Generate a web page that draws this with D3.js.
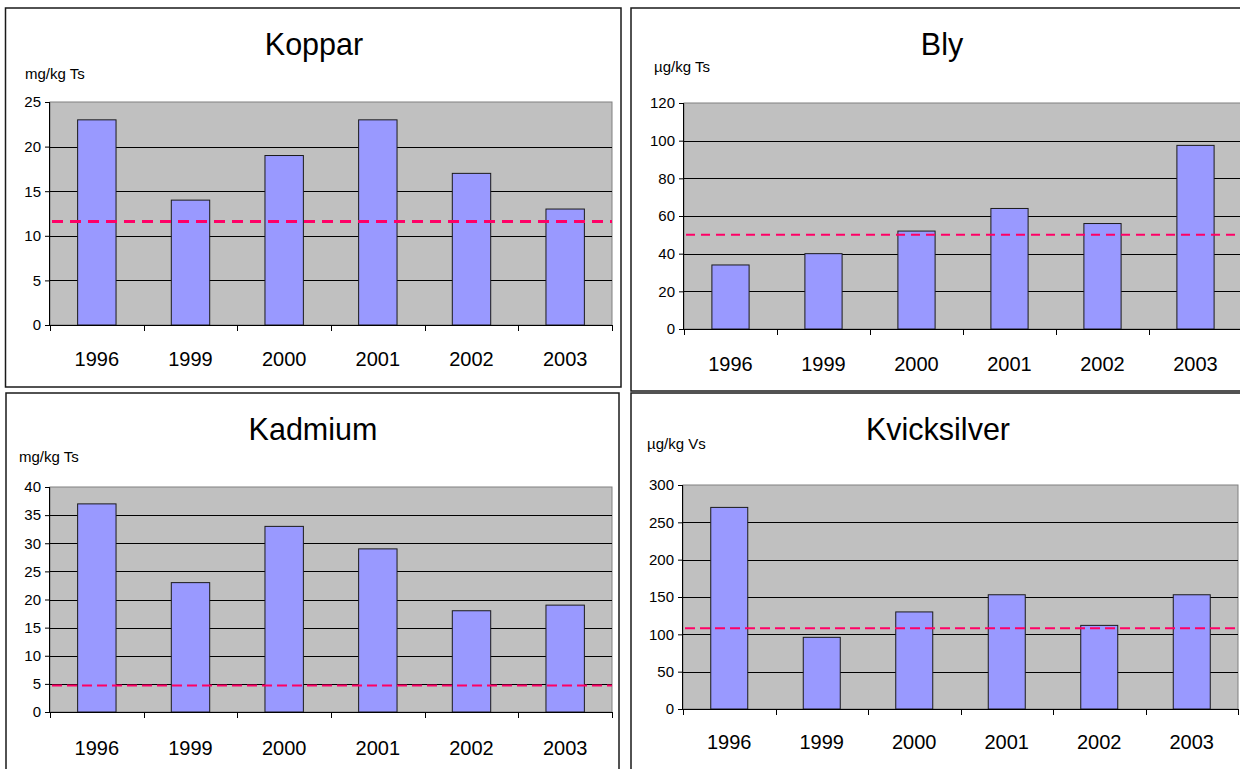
<!DOCTYPE html>
<html>
<head>
<meta charset="utf-8">
<script src="https://cdn.jsdelivr.net/npm/d3@7"></script>
<style>
  html, body { margin: 0; padding: 0; background: #ffffff; }
  svg { display: block; font-family: "Liberation Sans", Arial, sans-serif; }
</style>
</head>
<body>
<svg id="chart" width="1240" height="769"></svg>
<script>
// Sampling years shared by all four panels
const years = ["1996", "1999", "2000", "2001", "2002", "2003"];

// Koppar (mg/kg Ts)
const kopparValues = [23, 14, 19, 23, 17, 13];
const kopparReference = 11.6;
const kopparTicks = [0, 5, 10, 15, 20, 25];

// Bly (µg/kg Ts)
const blyValues = [34, 40, 52, 64, 56, 97.5];
const blyReference = 50;
const blyTicks = [0, 20, 40, 60, 80, 100, 120];

// Kadmium (mg/kg Ts)
const kadmiumValues = [37, 23, 33, 29, 18, 19];
const kadmiumReference = 4.7;
const kadmiumTicks = [0, 5, 10, 15, 20, 25, 30, 35, 40];

// Kvicksilver (µg/kg Vs)
const kvicksilverValues = [270, 96, 130, 153, 112, 153];
const kvicksilverReference = 108;
const kvicksilverTicks = [0, 50, 100, 150, 200, 250, 300];

const svg = d3.select("#chart");

function drawPanel(p) {
  const g = svg.append("g");

  // outer chart frame
  g.append("rect")
    .attr("x", p.box[0]).attr("y", p.box[1])
    .attr("width", p.box[2]).attr("height", p.box[3])
    .attr("fill", "#ffffff").attr("stroke", "#1a1a1a").attr("stroke-width", 1.5);

  const [px, py, pw, ph] = p.plot;
  const x = d3.scaleBand().domain(years).range([px, px + pw]).paddingInner(0).paddingOuter(0);
  const y = d3.scaleLinear().domain([0, d3.max(p.ticks)]).range([py + ph, py]);

  // plot area
  g.append("rect")
    .attr("x", px).attr("y", py).attr("width", pw).attr("height", ph)
    .attr("fill", "#c0c0c0").attr("stroke", "#808080").attr("stroke-width", 1);

  // horizontal gridlines
  g.append("g").selectAll("line")
    .data(p.ticks.filter(t => t > 0 && t < d3.max(p.ticks)))
    .join("line")
    .attr("x1", px).attr("x2", px + pw)
    .attr("y1", d => Math.round(y(d)) + 0.5).attr("y2", d => Math.round(y(d)) + 0.5)
    .attr("stroke", "#000000").attr("stroke-width", 1);

  // bars
  const bw = x.bandwidth() * p.barRatio;
  g.append("g").selectAll("rect")
    .data(years.map((yr, i) => ({ yr, v: p.values[i] })))
    .join("rect")
    .attr("x", d => x(d.yr) + (x.bandwidth() - bw) / 2)
    .attr("y", d => y(d.v))
    .attr("width", bw)
    .attr("height", d => y(0) - y(d.v))
    .attr("fill", "#9999ff").attr("stroke", "#1a1a1a").attr("stroke-width", 1);

  // reference level
  g.append("line")
    .attr("x1", px + 2).attr("x2", px + pw)
    .attr("y1", y(p.reference)).attr("y2", y(p.reference))
    .attr("stroke", "#ff0066").attr("stroke-width", p.dashWidth)
    .attr("stroke-dasharray", p.dash);

  // y axis
  const yAxis = d3.axisLeft(y).tickValues(p.ticks).tickSize(5).tickPadding(4).tickFormat(d3.format("d"));
  const ya = g.append("g").attr("transform", `translate(${px},0)`).call(yAxis);
  ya.select(".domain").attr("stroke", "#000").attr("d", `M-0.5,${py}V${py + ph}`);
  ya.selectAll(".tick line").attr("stroke", "#000");
  ya.selectAll(".tick text").attr("font-size", p.yFont).attr("fill", "#000")
    .attr("font-family", "Liberation Sans, Arial, sans-serif");

  // x axis: ticks at category boundaries, labels centered in each band
  const xa = g.append("g").attr("transform", `translate(0,${py + ph})`);
  xa.append("line").attr("x1", px).attr("x2", px + pw).attr("y1", 0.5).attr("y2", 0.5)
    .attr("stroke", "#000").attr("stroke-width", 1);
  const edges = years.map(d => x(d)).concat([px + pw]);
  xa.selectAll("line.edge").data(edges).join("line").attr("class", "edge")
    .attr("x1", d => Math.round(d) + 0.5).attr("x2", d => Math.round(d) + 0.5)
    .attr("y1", 0).attr("y2", 6).attr("stroke", "#000");
  xa.selectAll("text").data(years).join("text")
    .attr("x", d => x(d) + x.bandwidth() / 2)
    .attr("y", p.xLabelOffset)
    .attr("text-anchor", "middle")
    .attr("font-size", 20).attr("fill", "#000")
    .text(d => d);

  // title and unit label
  g.append("text").attr("x", p.titlePos[0]).attr("y", p.titlePos[1])
    .attr("text-anchor", "middle").attr("font-size", 30.5).attr("fill", "#000").text(p.title);
  g.append("text").attr("x", p.unitPos[0]).attr("y", p.unitPos[1])
    .attr("font-size", 15).attr("fill", "#000").text(p.unit);
}

drawPanel({
  title: "Koppar", unit: "mg/kg Ts", values: kopparValues, reference: kopparReference, ticks: kopparTicks,
  box: [5.5, 8, 615.5, 379], plot: [50, 102, 562, 223], titlePos: [314, 55], unitPos: [25, 79],
  xLabelOffset: 41, barRatio: 0.41, dash: "11,7", dashWidth: 3, yFont: 15
});
drawPanel({
  title: "Bly", unit: "µg/kg Ts", values: blyValues, reference: blyReference, ticks: blyTicks,
  box: [631, 8, 620, 383], plot: [684, 103, 558, 226], titlePos: [942, 55], unitPos: [654, 72],
  xLabelOffset: 42, barRatio: 0.4, dash: "9,6", dashWidth: 2, yFont: 15
});
drawPanel({
  title: "Kadmium", unit: "mg/kg Ts", values: kadmiumValues, reference: kadmiumReference, ticks: kadmiumTicks,
  box: [6, 393, 613, 400], plot: [50, 487, 562, 225], titlePos: [313, 440], unitPos: [19, 462],
  xLabelOffset: 43, barRatio: 0.41, dash: "10,5", dashWidth: 2, yFont: 15
});
drawPanel({
  title: "Kvicksilver", unit: "µg/kg Vs", values: kvicksilverValues, reference: kvicksilverReference, ticks: kvicksilverTicks,
  box: [631, 393, 620, 400], plot: [683, 485, 555, 224], titlePos: [938, 440], unitPos: [647, 449],
  xLabelOffset: 40, barRatio: 0.4, dash: "10,5", dashWidth: 2, yFont: 15
});
</script>
</body>
</html>
